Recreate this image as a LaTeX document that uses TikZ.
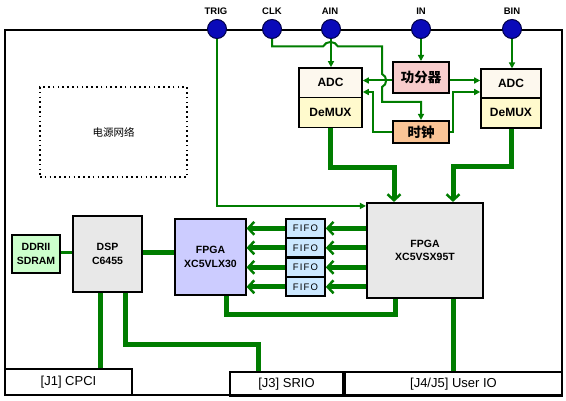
\documentclass[tikz,border=0pt]{standalone}
\usepackage{fontspec}
\setmainfont{Liberation Sans}
\newfontfamily\cjk{Noto Sans CJK SC}
\newfontfamily\wide[LetterSpace=12]{Liberation Sans}
\usetikzlibrary{arrows.meta,calc}
\definecolor{lg}{RGB}{0,125,0}
\definecolor{tblue}{RGB}{10,10,185}
\definecolor{tborder}{RGB}{0,0,70}
\definecolor{adcfill}{RGB}{253,248,238}
\definecolor{muxfill}{RGB}{255,250,205}
\definecolor{splitfill}{RGB}{248,204,204}
\definecolor{clkfill}{RGB}{250,196,150}
\definecolor{lavender}{RGB}{204,204,255}
\definecolor{greyfill}{RGB}{232,232,232}
\definecolor{fifofill}{RGB}{204,232,255}
\definecolor{ddrfill}{RGB}{204,255,204}
\begin{document}
\begin{tikzpicture}[x=1pt,y=-1pt,
  box/.style={draw=black,line width=1.6pt,inner sep=0pt,align=center},
  term/.style={circle,draw=tborder,fill=tblue,line width=1pt,minimum size=19pt,inner sep=0pt},
  tlab/.style={font=\bfseries\fontsize{9.5}{10}\selectfont},
  bfont/.style={font=\bfseries\fontsize{10.5}{13.4}\selectfont},
  thinw/.style={draw=lg,line width=2pt},
  midw/.style={draw=lg,line width=3pt},
  thickw/.style={draw=lg,line width=5pt},
  ttip/.style={-{Triangle[length=6pt,width=6pt]}},
  btip/.style={-{Straight Barb[length=6pt,width=13pt,line width=2.5pt]}}]
\useasboundingbox (0,0) rectangle (566,401);
\fill[white] (0,0) rectangle (566,401);

% outer frame
\draw[line width=1.8pt] (5,30) rectangle (562,395);

% terminals
\node[term] (trig) at (217,29) {};
\node[term] (clk) at (272,29) {};
\node[term] (ain) at (331,29) {};
\node[term] (in) at (421,29) {};
\node[term] (bin) at (512,29) {};
\node[tlab] (ltrig) at (216,11) {TRIG};
\node[tlab] (lclk) at (272,11) {CLK};
\node[tlab] (lain) at (330,11) {AIN};
\node[tlab] (lin) at (421,11) {IN};
\node[tlab] (lbin) at (512,11) {BIN};

% ADC / DeMUX blocks
\node[box,fill=adcfill,minimum width=63pt,minimum height=29.7pt,font=\bfseries\fontsize{12}{12}\selectfont] (adcA) at (330.5,82.8) {ADC};
\node[box,fill=muxfill,minimum width=63pt,minimum height=30pt,font=\bfseries\fontsize{12}{12}\selectfont] (demuxA) at (330.5,112.7) {DeMUX};
\node[box,fill=adcfill,minimum width=60pt,minimum height=28.5pt,font=\bfseries\fontsize{12}{12}\selectfont] (adcB) at (511,83.5) {ADC};
\node[box,fill=muxfill,minimum width=60pt,minimum height=30pt,font=\bfseries\fontsize{12}{12}\selectfont] (demuxB) at (511,112.8) {DeMUX};

\node[box,fill=splitfill,minimum width=56pt,minimum height=31pt,font=\cjk\bfseries\fontsize{13.5}{14}\selectfont] (splitter) at (421,77.3) {功分器};
\node[box,fill=clkfill,minimum width=56pt,minimum height=22.5pt,font=\cjk\bfseries\fontsize{13.5}{14}\selectfont] (clock) at (421,132) {时钟};

% power network
\node[draw=black,line width=1.6pt,dash pattern=on 1.6pt off 3.2pt,minimum width=147pt,minimum height=90pt,inner sep=0pt,font=\cjk\fontsize{10.5}{11}\selectfont] (power) at (113.5,132) {电源网络};

% FPGA blocks
\node[box,fill=greyfill,minimum width=116.5pt,minimum height=95.5pt,bfont] (fpgaB) at (425,250.5) {FPGA\\XC5VSX95T};
\node[box,fill=lavender,minimum width=70.5pt,minimum height=76pt,bfont] (fpgaA) at (210.5,257) {FPGA\\XC5VLX30};

% FIFOs
\foreach \i/\y in {1/228.3,2/247.8,3/267.3,4/286.8}{
  \node[box,fill=fifofill,minimum width=39pt,minimum height=18.5pt,font=\wide\fontsize{9.5}{10}\selectfont] (fifo\i) at (305.5,\y) {FIFO};
}

% DSP and memory
\node[box,fill=greyfill,minimum width=69.5pt,minimum height=75.5pt,bfont] (dsp) at (107.5,254) {DSP\\C6455};
\node[box,fill=ddrfill,minimum width=48.5pt,minimum height=37.5pt,bfont] (ddr) at (36,254) {DDRII\\SDRAM};

% connectors at the bottom
\node[box,line width=1.8pt,minimum width=127pt,minimum height=26pt,font=\fontsize{13}{13}\selectfont] (cpci) at (68.5,382) {[J1] CPCI};
\node[box,line width=1.8pt,minimum width=113pt,minimum height=24pt,font=\fontsize{13}{13}\selectfont] (srio) at (286.5,384) {[J3] SRIO};
\node[box,line width=1.8pt,minimum width=217pt,minimum height=24pt,font=\fontsize{13}{13}\selectfont] (userio) at (453.5,384) {[J4/J5] User IO};

% thin green connectors
\draw[thinw,ttip] (trig.south) |- ([yshift=-4pt]fpgaB.north west);
\draw[thinw,ttip] (clk.south) |- (323,46.5) .. controls (326,40.5) and (335,40.5) .. (338,46.5)
  -- (382,46.5) -- (382,74) .. controls (387.5,76) and (387.5,85) .. (382,87) -- (382,102) -| (clock.north);
\draw[thinw,ttip] (ain.south) -- (ain.south |- adcA.north);
\draw[thinw,ttip] (in.south) -- (splitter.north);
\draw[thinw,ttip] (bin.south) -- (bin.south |- adcB.north);
\draw[thinw,ttip] (splitter.west |- 0,80.5) -- (adcA.east |- 0,80.5);
\draw[thinw,ttip] (splitter.east |- 0,80.5) -- (adcB.west |- 0,80.5);
\draw[thinw,ttip] (clock.west) -| (373,92) -- (adcA.east |- 0,92);
\draw[thinw,ttip] (clock.east) -| (453,92) -- (adcB.west |- 0,92);

% thick green connectors
\draw[thickw,btip] (demuxA.south) |- (394,168) -- (394,0 |- fpgaB.north);
\draw[thickw,btip] (demuxB.south) |- (453,167) -- (453,0 |- fpgaB.north);
\foreach \i in {1,2,3,4}{
  \draw[thickw,btip] (fpgaB.west |- fifo\i.east) -- (fifo\i.east);
  \draw[thickw,btip] (fifo\i.west) -- (fpgaA.east |- fifo\i.west);
}
\draw[thickw] (fpgaA.south -| 226.7,0) |- (395,315) -- (395,0 |- fpgaB.south);
\draw[thickw] (fpgaB.south -| 453,0) -- (453,0 |- userio.north);
\draw[thickw] (dsp.east |- 0,253) -- (fpgaA.west |- 0,253);
\draw[midw] (ddr.east |- 0,253) -- (dsp.west |- 0,253);
\draw[thickw] (dsp.south -| 100,0) -- (100,0 |- cpci.north);
\draw[thickw] (dsp.south -| 125.7,0) |- (258,345) -- (258,0 |- srio.north);
\end{tikzpicture}
\end{document}
